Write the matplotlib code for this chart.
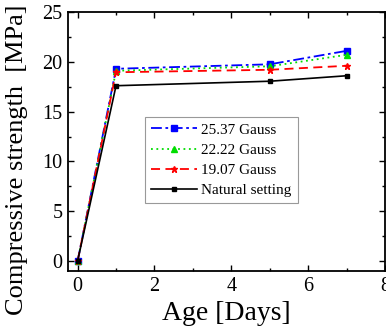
import matplotlib.pyplot as plt
from matplotlib.ticker import MultipleLocator

plt.rcParams['font.family'] = ['Liberation Serif', 'DejaVu Serif']

# ========== Data ==========
days = [0, 1, 5, 7]
g2537 = [0, 19.3, 19.75, 21.1]
g2222 = [0, 19.1, 19.55, 20.7]
g1907 = [0, 18.95, 19.2, 19.6]
natural = [0, 17.6, 18.05, 18.6]

fig = plt.figure(figsize=(3.86, 3.30), dpi=100)
ax = fig.add_axes([68 / 386, 59 / 330, 317 / 386, 259 / 330])

ax.plot(days, g2537, color='blue', linestyle=(0, (6, 2, 1.5, 2)), marker='s', markersize=4, lw=1.3, label='25.37 Gauss')
ax.plot(days, g2222, color='#00dd00', linestyle=(0, (1, 2)), marker='^', markersize=4, lw=1.3, label='22.22 Gauss')
ax.plot(days, g1907, color='red', linestyle=(0, (5, 3)), marker='*', markersize=5, lw=1.3, label='19.07 Gauss')
ax.plot(days, natural, color='black', linestyle='-', marker='s', markersize=3.5, lw=1.2, label='Natural setting')

ax.set_xlim(-0.25, 8)
ax.set_ylim(-1, 25)
ax.xaxis.set_major_locator(MultipleLocator(2))
ax.xaxis.set_minor_locator(MultipleLocator(1))
ax.yaxis.set_major_locator(MultipleLocator(5))
ax.yaxis.set_minor_locator(MultipleLocator(2.5))
ax.tick_params(which='both', direction='in', top=True, right=True, labelsize=14.5, width=1)
ax.tick_params(which='major', length=4, pad=4)
ax.tick_params(which='minor', length=2.5)
for s in ax.spines.values():
    s.set_linewidth(1.3)

ax.set_xlabel('Age [Days]', fontsize=20, labelpad=4)
ax.set_ylabel('Compressive strength  [MPa]', fontsize=19)
ax.yaxis.set_label_coords(-0.125, 0.43)

leg = ax.legend(loc='lower left', bbox_to_anchor=(0.218, 0.232), fontsize=11, fancybox=False,
                edgecolor='#999999', framealpha=1, handlelength=3, borderpad=0.4,
                labelspacing=0.42, handletextpad=0.3)
leg.get_frame().set_linewidth(0.8)

fig.savefig('out.png', dpi=100)
